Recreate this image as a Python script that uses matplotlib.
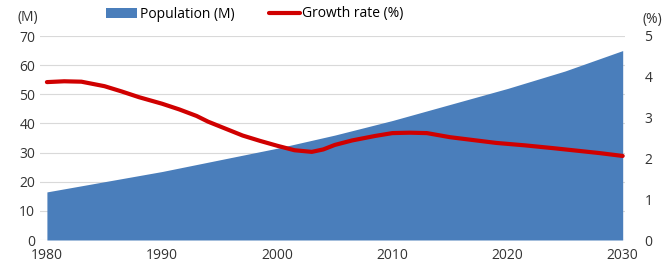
import matplotlib.pyplot as plt

# population (millions)
pop_years = [1980, 1990, 2000, 2005, 2010, 2015, 2020, 2025, 2030]
population = [16.5, 23.5, 31.5, 36.0, 41.0, 46.5, 52.0, 58.0, 65.0]

# growth rate (%), red line
gr_years = [1980, 1981.5, 1983, 1985, 1986.5, 1988, 1990, 1991.5, 1993, 1994, 1995.5,
            1997, 1998.5, 2000, 2001.5, 2003, 2004, 2005, 2006.5, 2008.5, 2010, 2011.5,
            2013, 2015, 2017, 2019, 2021.5, 2024, 2026, 2028, 2030]
growth = [3.87, 3.89, 3.88, 3.77, 3.64, 3.5, 3.34, 3.2, 3.04, 2.9, 2.73,
          2.56, 2.43, 2.31, 2.2, 2.16, 2.22, 2.33, 2.44, 2.55, 2.62, 2.63,
          2.62, 2.52, 2.45, 2.38, 2.32, 2.25, 2.19, 2.13, 2.06]

plt.rcParams['font.family'] = ['Open Sans', 'DejaVu Sans']
plt.rcParams['font.size'] = 10

fig = plt.figure(figsize=(6.62, 2.65), dpi=100)
ax = fig.add_axes([40 / 662, 1 - 240 / 265, 585 / 662, 204 / 265])

area = ax.fill_between(pop_years, population, 0, color='#4a7ebb', lw=0, label='Population (M)')
ax.set_ylim(0, 70)
ax.set_yticks(range(0, 71, 10))
ax.set_xlim(1979.4, 2030.2)
ax.set_xticks(range(1980, 2031, 10))
ax.grid(axis='y', color='#d9d9d9', lw=0.8)
ax.set_axisbelow(True)
ax.tick_params(length=0, colors='#333333', labelsize=10)
ax.tick_params(axis='x', pad=6)
for s in ax.spines.values():
    s.set_visible(False)

ax2 = ax.twinx()
line, = ax2.plot(gr_years, growth, color='#d00000', lw=3, label='Growth rate (%)',
                 solid_joinstyle='round', solid_capstyle='round')
ax2.set_ylim(0, 5)
ax2.set_yticks(range(0, 6))
ax2.tick_params(length=0, colors='#333333', labelsize=10, pad=14)
for s in ax2.spines.values():
    s.set_visible(False)

fig.text(18 / 662, 1 - 17 / 265, '(M)', ha='left', va='center', fontsize=10, color='#333333')
fig.text(652 / 662, 1 - 19 / 265, '(%)', ha='center', va='center', fontsize=10, color='#333333')

fig.legend(handles=[area, line], loc='center', bbox_to_anchor=(255 / 662, 1 - 14 / 265),
           ncol=2, frameon=False, fontsize=10, handlelength=2.2, columnspacing=2.5,
           handletextpad=0.2)

plt.savefig('out.png', dpi=100)
